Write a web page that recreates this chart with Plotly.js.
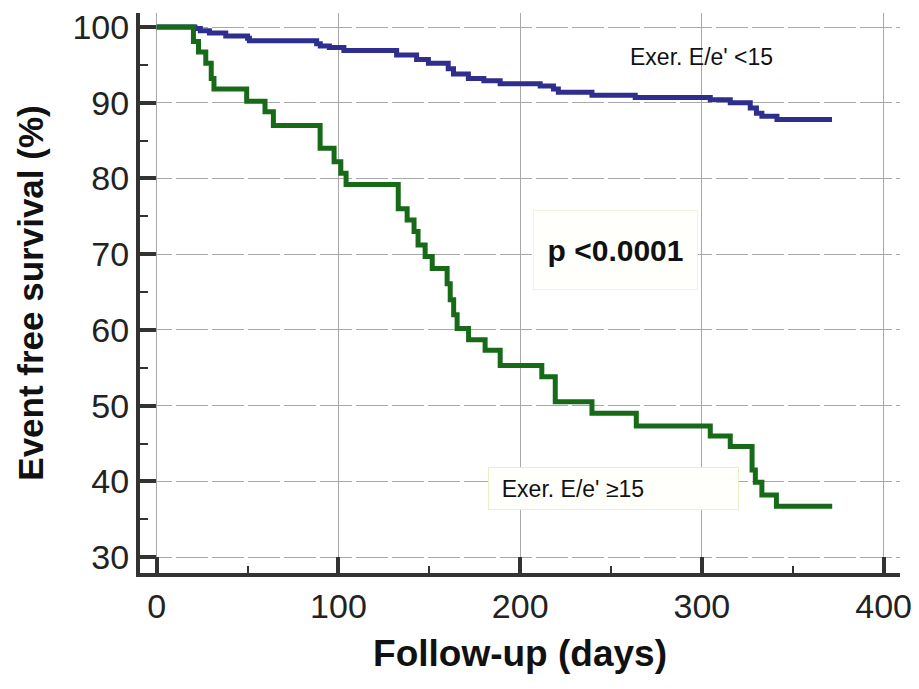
<!DOCTYPE html>
<html>
<head>
<meta charset="utf-8">
<script src="https://cdn.plot.ly/plotly-3.0.1.min.js"></script>
<style>html,body{margin:0;padding:0;background:#fff;}#chart{width:919px;height:689px;}</style>
</head>
<body>
<div id="chart"></div>
<script>
// Kaplan-Meier step data (days, event free survival %)
const lowDays = [0, 21, 24, 29, 38, 50, 51, 88, 90, 95, 103, 132, 143, 149.5, 160.4, 163.3, 171.5, 180, 189, 211, 218.3, 221, 239.5, 263.3, 304.6, 315.6, 326.6, 330, 333, 341.3, 371.6];
const lowSurv = [100, 99.8, 99.5, 99.2, 98.8, 98.5, 98.2, 97.8, 97.5, 97.3, 96.9, 96.3, 95.7, 95.2, 94.5, 93.8, 93.2, 92.9, 92.5, 92.2, 91.8, 91.4, 91.0, 90.7, 90.4, 90.0, 89.3, 88.6, 88.2, 87.8, 87.8];

const highDays = [0, 20.2, 23, 27, 30, 31.5, 49.5, 59.6, 64.2, 89.9, 97.6, 101.3, 104.2, 132.9, 137.8, 141.6, 143.8, 147.7, 151.6, 159.8, 161.5, 163.4, 165.3, 171.6, 180.7, 189, 211.9, 219.3, 239.5, 263.9, 304.6, 315.6, 327.6, 329.4, 333, 341, 371.7];
const highSurv = [100, 98.1, 96.7, 95.2, 93.2, 91.8, 90.2, 88.8, 87.0, 84.0, 82.2, 80.7, 79.2, 76.0, 74.5, 73.0, 71.2, 69.7, 68.1, 66.1, 64.0, 62.0, 60.2, 58.7, 57.3, 55.3, 53.8, 50.5, 49.0, 47.3, 46.0, 44.6, 41.5, 39.9, 38.2, 36.7, 36.7];

const seriesNames = ["Exer. E/e' <15", "Exer. E/e' \u226515"];
const xTickVals = [0, 100, 200, 300, 400];
const yTickVals = [30, 40, 50, 60, 70, 80, 90, 100];
const pText = "p <0.0001";

const FONT = "Liberation Sans, Arial, sans-serif";

const traces = [
  {x: lowDays, y: lowSurv, type: 'scatter', mode: 'lines', name: seriesNames[0],
   line: {shape: 'hv', color: '#2e2e8e', width: 5}},
  {x: highDays, y: highSurv, type: 'scatter', mode: 'lines', name: seriesNames[1],
   line: {shape: 'hv', color: '#176a17', width: 5}}
];

const layout = {
  width: 919, height: 689,
  margin: {l: 140, r: 19, t: 13, b: 116},
  paper_bgcolor: '#fff', plot_bgcolor: '#fff',
  showlegend: false,
  font: {family: FONT, color: '#222'},
  xaxis: {
    range: [-9.2, 409], tickvals: xTickVals, ticktext: xTickVals.map(String),
    ticks: 'inside', ticklen: 16, tickwidth: 4, tickcolor: '#333',
    showline: true, linewidth: 4, linecolor: '#333',
    showgrid: true, gridcolor: '#a8a8a8', gridwidth: 1, griddash: 'solid',
    zeroline: false,
    tickfont: {size: 34, family: FONT, color: '#222'},
    minor: {dtick: 50, tick0: 0, ticks: 'inside', ticklen: 7, tickwidth: 2, tickcolor: '#333', showgrid: false},
    title: {text: 'Follow-up (days)', font: {size: 37, family: FONT, color: '#111', weight: 'bold'}, standoff: 17}
  },
  yaxis: {
    range: [27.9, 101.85], tickvals: yTickVals, ticktext: yTickVals.map(String),
    ticks: 'inside', ticklen: 16, tickwidth: 4, tickcolor: '#333',
    showline: true, linewidth: 4, linecolor: '#333',
    showgrid: true, gridcolor: '#a8a8a8', gridwidth: 1, griddash: '32px,4px',
    zeroline: false,
    tickfont: {size: 34, family: FONT, color: '#222'},
    minor: {dtick: 5, tick0: 0, ticks: 'inside', ticklen: 8, tickwidth: 2, tickcolor: '#333', showgrid: false},
    title: {text: 'Event free survival (%)', font: {size: 35, family: FONT, color: '#111', weight: 'bold'}, standoff: 19}
  },
  annotations: [
    {x: 300, y: 96.0, xref: 'x', yref: 'y', text: seriesNames[0], showarrow: false,
     font: {size: 23, family: FONT, color: '#111'}},
    {x: 252.6, y: 70.5, xref: 'x', yref: 'y', text: '<b>' + pText + '</b>', showarrow: false,
     font: {size: 30, family: FONT, color: '#111'},
     bgcolor: '#fffffb', bordercolor: '#f3f3dc', borderwidth: 1, borderpad: 0,
     width: 163, height: 78, align: 'center', valign: 'middle'},
    {x: 251.5, y: 39.0, xref: 'x', yref: 'y', text: '&nbsp;&nbsp;' + seriesNames[1], showarrow: false,
     font: {size: 23, family: FONT, color: '#111'},
     bgcolor: '#fffffb', bordercolor: '#eeeec4', borderwidth: 1, borderpad: 0,
     width: 249, height: 41, align: 'left', valign: 'middle'}
  ]
};

Plotly.newPlot('chart', traces, layout, {displayModeBar: false, staticPlot: true});
</script>
</body>
</html>
